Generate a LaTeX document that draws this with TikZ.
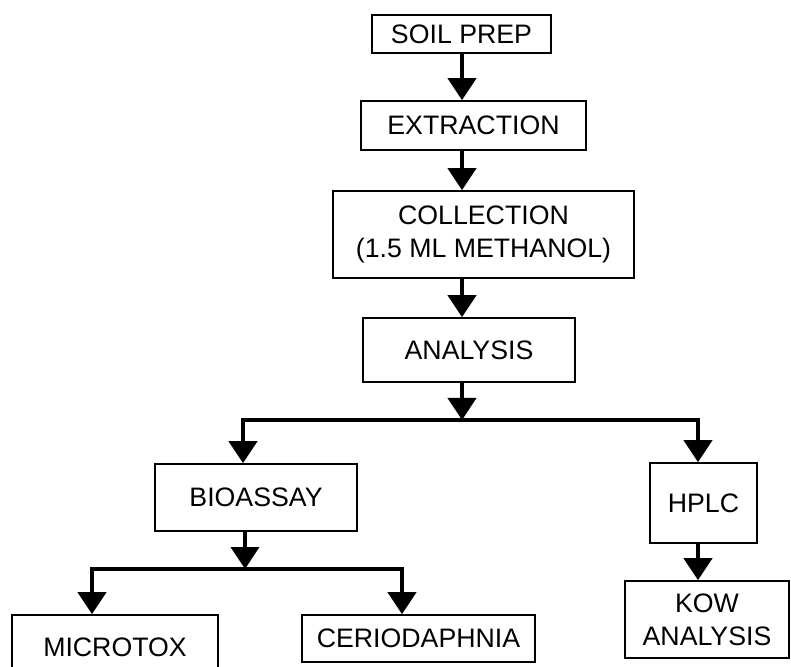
\documentclass[tikz,border=0pt]{standalone}
\usepackage{fontspec}
\setmainfont{Liberation Sans}
\usetikzlibrary{arrows.meta}

\begin{document}
\begin{tikzpicture}[
  box/.style={draw, line width=1.2pt, inner sep=0pt, align=center, font=\fontsize{19}{23.5}\selectfont},
  arr/.style={-{Triangle[length=0.55cm,width=0.7cm]}, line width=3pt},
  bar/.style={line width=3pt, line cap=rect}]
\useasboundingbox (0, 0) rectangle (19.775, 16.65);

\node [box, minimum width=4.475cm, minimum height=0.95cm] (soil) at (11.5375, 15.8) {SOIL PREP};
\node [box, minimum width=5.625cm, minimum height=1.225cm] (extraction) at (11.8375, 13.5125) {EXTRACTION};
\node [box, minimum width=7.525cm, minimum height=2.175cm] (collection) at (12.0875, 10.7875) {COLLECTION\\(1.5 ML METHANOL)};
\node [box, minimum width=5.3cm, minimum height=1.6cm] (analysis) at (11.725, 7.9) {ANALYSIS};
\node [box, minimum width=5.05cm, minimum height=1.675cm] (bioassay) at (6.4, 4.2125) {BIOASSAY};
\node [box, minimum width=2.675cm, minimum height=2.0cm] (hplc) at (17.5875, 4.075) {HPLC};
\node [box, minimum width=4.1cm, minimum height=1.925cm] (kow) at (17.675, 1.1625) {KOW\\ANALYSIS};
\node [box, minimum width=5.15cm, minimum height=1.625cm] (microtox) at (2.875, 0.4625) {MICROTOX};
\node [box, minimum width=5.825cm, minimum height=1.175cm] (cerio) at (10.4625, 0.6875) {CERIODAPHNIA};

\coordinate (spine) at (11.55, 0);
\draw [arr] (soil.south -| spine) -- (extraction.north -| spine);
\draw [arr] (extraction.south -| spine) -- (collection.north -| spine);
\draw [arr] (collection.south -| spine) -- (analysis.north -| spine);

\coordinate (split) at (11.55, 6.15);
\coordinate (splitL) at (6.075, 6.15);
\coordinate (splitR) at (17.45, 6.15);
\draw [arr] (analysis.south -| spine) -- (split);
\draw [bar] (splitL) -- (splitR);
\draw [arr] (splitL) -- (splitL |- bioassay.north);
\draw [arr] (splitR) -- (splitR |- hplc.north);
\draw [arr] (hplc.south -| splitR) -- (splitR |- kow.north);

\coordinate (sub) at (6.125, 2.425);
\coordinate (subL) at (2.3, 2.425);
\coordinate (subR) at (10.05, 2.425);
\draw [arr] (bioassay.south -| sub) -- (sub);
\draw [bar] (subL) -- (subR);
\draw [arr] (subL) -- (subL |- microtox.north);
\draw [arr] (subR) -- (subR |- cerio.north);
\end{tikzpicture}
\end{document}
